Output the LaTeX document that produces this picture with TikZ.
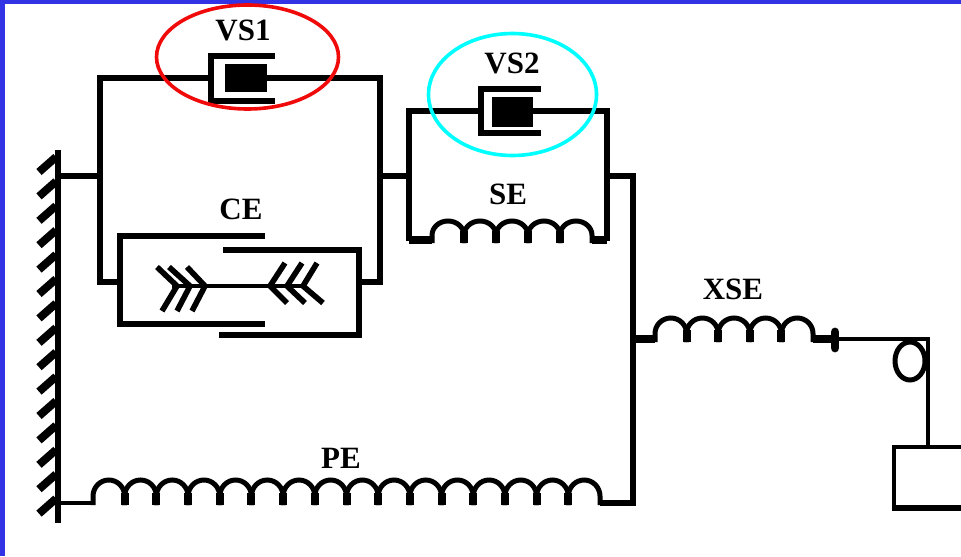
\documentclass[tikz,border=0pt]{standalone}
\usepackage{fontspec}
\setmainfont{Liberation Serif}
\usetikzlibrary{calc}
\definecolor{framecol}{RGB}{51,51,230}
\definecolor{ringcyan}{RGB}{0,255,255}
\definecolor{ringred}{RGB}{240,10,10}

\begin{document}
\begin{tikzpicture}[x=0.5pt, y=-0.5pt,
	wire/.style={line width=2.9pt, black, line cap=butt, line join=miter},
	thinwire/.style={line width=2.2pt, black, line join=miter},
	coil/.style={line width=2.5pt, black},
	foot/.style={line width=4pt, black},
	label/.style={font=\fontsize{15.5}{15.5}\selectfont\bfseries, inner sep=0pt}]
	
	% -------------------------------------------------
	% 1. Page and frame
	% -------------------------------------------------
	\useasboundingbox (0,0) rectangle (961,556);
	\fill[white] (0,0) rectangle (961,556);
	\fill[framecol] (0,0) rectangle (961,4);
	\fill[framecol] (0,0) rectangle (5,556);
	
	% -------------------------------------------------
	% 2. Wall
	% -------------------------------------------------
	\coordinate (WallTop) at (58,150);
	\coordinate (WallBot) at (58,523);
	\draw[thinwire, line width=2.6pt] (WallTop) -- (WallBot);
	\foreach \i in {0,...,14} {
		\draw[wire, line width=4pt] (39,172+24.4*\i) -- (56,157+24.4*\i);
	}
	
	% -------------------------------------------------
	% 3. Parallel branch VS1 / CE
	% -------------------------------------------------
	\coordinate (WallOut) at (58,176);
	\coordinate (LeftJoin) at (100,176);
	\coordinate (RightJoin) at (380,176);
	\draw[wire, line width=3.4pt] (WallOut) -- (LeftJoin);
	\draw[wire] (211,78) -- (100,78) -- (100,282) -- (118,282);
	\draw[wire] (267,78) -- (380,78) -- (380,282) -- (358,282);
	
	% VS1 damper
	\draw[wire] (275,56) -- (211,56) -- (211,101) -- (275,101);
	\fill[black] (225,64) rectangle (267,92);
	
	% CE cylinder
	\draw[wire, line width=3.4pt] (265,236) -- (120,236) -- (120,324) -- (265,324);
	\draw[wire] (223,250) -- (359,250) -- (359,335) -- (219,335);
	
	% CE arrows
	\draw[thinwire] (172,286) -- (303,286);
	\foreach \xa/\xb/\xc in {157/177/162, 169/190/177, 187/205/192} {
		\draw[wire, line width=2.8pt] (\xa,267) -- (\xb,286) -- (\xc,311);
	}
	\foreach \xa/\xb/\xc in {285/270/287, 302/287/305, 317/303/323} {
		\draw[wire, line width=2.8pt] (\xa,263) -- (\xb,286) -- (\xc,303);
	}
	
	% -------------------------------------------------
	% 4. Parallel branch VS2 / SE
	% -------------------------------------------------
	\coordinate (SeLeft) at (409,176);
	\coordinate (SeRight) at (607,176);
	\coordinate (OutTop) at (633,176);
	\coordinate (OutMid) at (633,339);
	\coordinate (OutBot) at (633,503);
	\draw[wire, line width=3.4pt] (RightJoin) -- (SeLeft);
	\draw[wire] (481,111) -- (409,111) -- (409,241);
	\draw[wire] (533,111) -- (607,111) -- (607,241);
	\draw[wire] (SeRight) -- (OutTop) -- (OutBot) -- (600,503);
	
	% VS2 damper
	\draw[wire] (541,89) -- (481,89) -- (481,133) -- (541,133);
	\fill[black] (492,97) rectangle (533,127);
	
	% -------------------------------------------------
	% 5. Springs: start / end / base / top / coils
	% -------------------------------------------------
	\foreach \xs/\xe/\yb/\yt/\n in {432/592/243/221/5, 655/813/342/318/5, 93/600/505/480/16} {
		\pgfmathsetmacro{\pitch}{(\xe-\xs)/\n}
		\pgfmathsetmacro{\rise}{(\yb-\yt)*0.35}
		\pgfmathsetmacro{\rad}{(\yb-\yt)*0.65*0.5}
		\foreach \i in {1,...,\n} {
			\draw[coil] (\xs+\pitch*\i-\pitch,\yb) -- ++(0,-\rise)
				arc[start angle=180, end angle=0, x radius=\pitch*0.25pt, y radius=\rad pt]
				-- ++(0,\rise);
		}
		\foreach \i in {2,...,\n} {
			\draw[foot] (\xs+\pitch*\i-\pitch,\yb) -- ++(0,-12);
		}
	}
	\draw[foot] (409,240) -- (432,240);
	\draw[foot] (592,240) -- (607,240);
	
	% -------------------------------------------------
	% 6. PE and XSE ends, load
	% -------------------------------------------------
	\coordinate (Knob) at (835,339);
	\coordinate (PulleyTop) at (928,339);
	\coordinate (Load) at (928,447);
	\draw[thinwire] (58,503) -- (93,503);
	\draw[foot] (OutMid) -- (655,339);
	\draw[foot] (813,339) -- (Knob);
	\draw[wire, line width=4.4pt, line cap=round] (835,332) -- (835,348);
	\draw[thinwire] (Knob) -- (PulleyTop) -- (Load);
	\draw[thinwire, line width=2.5pt] (910,361) ellipse [x radius=7.5pt, y radius=9.5pt];
	
	% Load
	\draw[thinwire] (961,447) -- (894,447) -- (894,508);
	\fill[black] (892,505) rectangle (961,511);
	
	% -------------------------------------------------
	% 7. Highlight rings and labels
	% -------------------------------------------------
	\draw[ringred, line width=1.8pt] (247.5,57) ellipse [x radius=45.5pt, y radius=26pt];
	\draw[ringcyan, line width=1.8pt] (512.5,94.5) ellipse [x radius=42pt, y radius=30.5pt];
	
	\node[label] (VSone) at (243,30) {VS1};
	\node[label] (VStwo) at (512,63) {VS2};
	\node[label] (CE) at (241,209) {CE};
	\node[label] (SE) at (508,194) {SE};
	\node[label] (XSE) at (733,289) {XSE};
	\node[label] (PE) at (341,458) {PE};
	
\end{tikzpicture}
\end{document}
